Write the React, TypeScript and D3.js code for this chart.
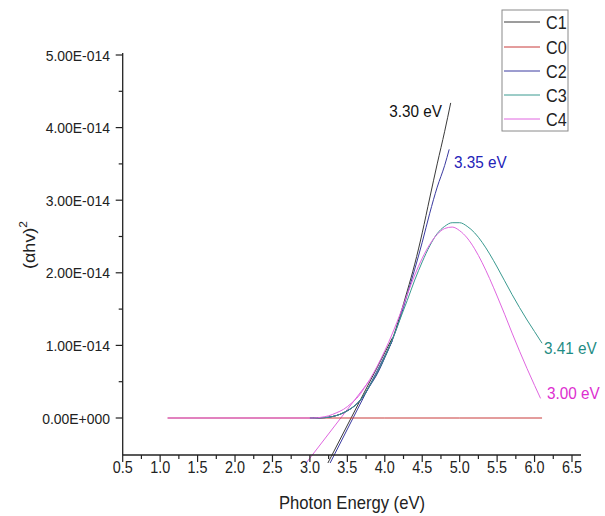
import React from "react";
import * as d3 from "d3";

// ---------- data (y in units of 1e-14) ----------
const C1_x = [3.0, 3.1, 3.2, 3.3, 3.4, 3.5, 3.6, 3.7, 3.8, 3.9, 4.0, 4.1, 4.2, 4.3, 4.4, 4.5, 4.6, 4.7, 4.8, 4.88];
const C1_y = [0, 0, 0.005, 0.02, 0.05, 0.1, 0.17, 0.28, 0.45, 0.62, 0.84, 1.08, 1.4, 1.75, 2.12, 2.55, 3.03, 3.5, 3.95, 4.34];

const C0_x = [1.1, 2.0, 3.0, 4.0, 5.0, 6.1];
const C0_y = [0, 0, 0, 0, 0, 0];

const C2_x = [3.0, 3.1, 3.2, 3.3, 3.4, 3.5, 3.6, 3.7, 3.8, 3.9, 4.0, 4.1, 4.2, 4.3, 4.4, 4.5, 4.6, 4.7, 4.8, 4.86];
const C2_y = [0, 0, 0.005, 0.02, 0.05, 0.1, 0.17, 0.28, 0.44, 0.61, 0.83, 1.07, 1.36, 1.7, 2.05, 2.42, 2.82, 3.18, 3.48, 3.7];

const C3_x = [3.0, 3.1, 3.2, 3.3, 3.4, 3.5, 3.6, 3.7, 3.8, 3.9, 4.0, 4.1, 4.2, 4.3, 4.4, 4.5, 4.6, 4.7, 4.8, 4.9, 5.0, 5.1, 5.2, 5.3, 5.4, 5.5, 5.6, 5.7, 5.8, 5.9, 6.0, 6.1];
const C3_y = [0, 0, 0.005, 0.02, 0.05, 0.1, 0.17, 0.28, 0.45, 0.63, 0.84, 1.08, 1.35, 1.62, 1.9, 2.15, 2.37, 2.54, 2.64, 2.69, 2.69, 2.64, 2.55, 2.42, 2.26, 2.08, 1.89, 1.7, 1.52, 1.35, 1.19, 1.03];

const C4_x = [1.1, 3.05, 3.15, 3.25, 3.35, 3.45, 3.55, 3.65, 3.75, 3.85, 3.95, 4.05, 4.2, 4.3, 4.4, 4.5, 4.6, 4.7, 4.8, 4.9, 5.0, 5.1, 5.2, 5.3, 5.4, 5.5, 5.6, 5.7, 5.8, 5.9, 6.0, 6.08];
const C4_y = [0, 0, 0.01, 0.03, 0.07, 0.12, 0.2, 0.3, 0.45, 0.62, 0.82, 1.04, 1.42, 1.7, 1.97, 2.2, 2.39, 2.53, 2.61, 2.63, 2.58, 2.48, 2.33, 2.14, 1.92, 1.68, 1.43, 1.17, 0.92, 0.68, 0.45, 0.27];

// tangent (fit) lines
const T1_x = [3.24, 4.1];
const T1_y = [-0.62, 1.1];
const T2_x = [3.27, 4.1];
const T2_y = [-0.62, 1.06];
const T4_x = [2.95, 3.8];
const T4_y = [-0.62, 0.52];

const seriesNames = ["C1", "C0", "C2", "C3", "C4"];
const seriesColors = ["#3a3a3a", "#c83a3a", "#3a3aa0", "#3a9a90", "#e066e0"];

const gapLabels = ["3.30 eV", "3.35 eV", "3.41 eV", "3.00 eV"];
const gapColors = ["#111111", "#2323b8", "#1f8c84", "#dd2ed0"];

const xTicks = [0.5, 1.0, 1.5, 2.0, 2.5, 3.0, 3.5, 4.0, 4.5, 5.0, 5.5, 6.0, 6.5];
const xMinor = [0.75, 1.25, 1.75, 2.25, 2.75, 3.25, 3.75, 4.25, 4.75, 5.25, 5.75, 6.25];
const yTicks = [0, 1, 2, 3, 4, 5];
const yTickLabels = ["0.00E+000", "1.00E-014", "2.00E-014", "3.00E-014", "4.00E-014", "5.00E-014"];
const yMinor = [0.5, 1.5, 2.5, 3.5, 4.5];

const FONT = "'Liberation Sans', Arial, sans-serif";
const SX = 0.9;

function T(props: any) {
  const { x, y, size, fill = "#222", anchor = "start", children } = props;
  return (
    <text
      transform={`translate(${x},${y}) scale(${SX},1)`}
      fontSize={size}
      fill={fill}
      textAnchor={anchor}
      fontFamily={FONT}
    >
      {children}
    </text>
  );
}

export default function App() {
  const x = d3.scaleLinear().domain([0.5, 6.5]).range([122.7, 572]);
  const y = d3.scaleLinear().domain([0, 5]).range([418, 55]);
  const xEnd = 581;
  const yBottom = 455;
  const yTop = 53;

  const line = d3
    .line<[number, number]>()
    .x((d) => x(d[0]))
    .y((d) => y(d[1]))
    .curve(d3.curveMonotoneX);
  const straight = d3
    .line<[number, number]>()
    .x((d) => x(d[0]))
    .y((d) => y(d[1]));

  const zip = (a: number[], b: number[]) => a.map((v, i) => [v, b[i]] as [number, number]);
  const curves = [zip(C1_x, C1_y), zip(C0_x, C0_y), zip(C2_x, C2_y), zip(C3_x, C3_y), zip(C4_x, C4_y)];
  const tangents = [
    { d: zip(T1_x, T1_y), c: seriesColors[0] },
    { d: zip(T2_x, T2_y), c: seriesColors[2] },
    { d: zip(T4_x, T4_y), c: seriesColors[4] },
  ];

  const labelPos = [
    { x: 442, y: 117, anchor: "end" },
    { x: 454, y: 168, anchor: "start" },
    { x: 544, y: 354, anchor: "start" },
    { x: 547, y: 399, anchor: "start" },
  ];

  const legendRows = [22, 47, 71, 95, 119];

  return (
    <svg
      width={605}
      height={516}
      style={{ position: "absolute", left: 0, top: 0, background: "#fff" }}
    >
      <rect x={0} y={0} width={605} height={516} fill="#fff" />
      {/* tangent lines */}
      {tangents.map((t, i) => (
        <path key={"t" + i} d={straight(t.d) || ""} fill="none" stroke={t.c} strokeWidth={1} />
      ))}
      {/* curves */}
      {curves.map((c, i) => (
        <path key={"c" + i} d={line(c) || ""} fill="none" stroke={seriesColors[i]} strokeWidth={1} />
      ))}

      {/* axes */}
      <line x1={x(0.5)} x2={x(0.5)} y1={yTop} y2={yBottom} stroke="#222" strokeWidth={1.3} />
      <line x1={x(0.5)} x2={xEnd} y1={yBottom} y2={yBottom} stroke="#222" strokeWidth={1.3} />
      {xTicks.map((v) => (
        <g key={"xt" + v}>
          <line x1={x(v)} x2={x(v)} y1={yBottom} y2={yBottom + 7} stroke="#222" strokeWidth={1.2} />
          <T x={x(v)} y={473} size={16} anchor="middle">
            {v.toFixed(1)}
          </T>
        </g>
      ))}
      {xMinor.map((v) => (
        <line key={"xm" + v} x1={x(v)} x2={x(v)} y1={yBottom} y2={yBottom + 4} stroke="#222" strokeWidth={1.2} />
      ))}
      {yTicks.map((v, i) => (
        <g key={"yt" + v}>
          <line x1={x(0.5) - 7} x2={x(0.5)} y1={y(v)} y2={y(v)} stroke="#222" strokeWidth={1.2} />
          <T x={110} y={y(v) + 5.5} size={15.5} anchor="end">
            {yTickLabels[i]}
          </T>
        </g>
      ))}
      {yMinor.map((v) => (
        <line key={"ym" + v} x1={x(0.5) - 4} x2={x(0.5)} y1={y(v)} y2={y(v)} stroke="#222" strokeWidth={1.2} />
      ))}

      {/* axis titles */}
      <T x={352} y={509} size={18.5} anchor="middle">
        Photon Energy (eV)
      </T>
      <text
        transform="translate(35,245) rotate(-90) scale(1,0.9)"
        fontSize={18}
        fontFamily={FONT}
        fill="#222"
        textAnchor="middle"
      >
        (αhv)
        <tspan fontSize={12} dy={-9}>
          2
        </tspan>
      </text>

      {/* band-gap labels */}
      {gapLabels.map((s, i) => (
        <T key={"gl" + i} x={labelPos[i].x} y={labelPos[i].y} size={17} fill={gapColors[i]} anchor={labelPos[i].anchor}>
          {s}
        </T>
      ))}

      {/* legend */}
      <rect x={502} y={10} width={66} height={121} fill="#fff" stroke="#8a8a8a" strokeWidth={1} />
      {seriesNames.map((n, i) => (
        <g key={"lg" + n}>
          <line x1={504} x2={540} y1={legendRows[i]} y2={legendRows[i]} stroke={seriesColors[i]} strokeWidth={1} />
          <T x={546} y={legendRows[i] + 6.5} size={18}>
            {n}
          </T>
        </g>
      ))}
    </svg>
  );
}
